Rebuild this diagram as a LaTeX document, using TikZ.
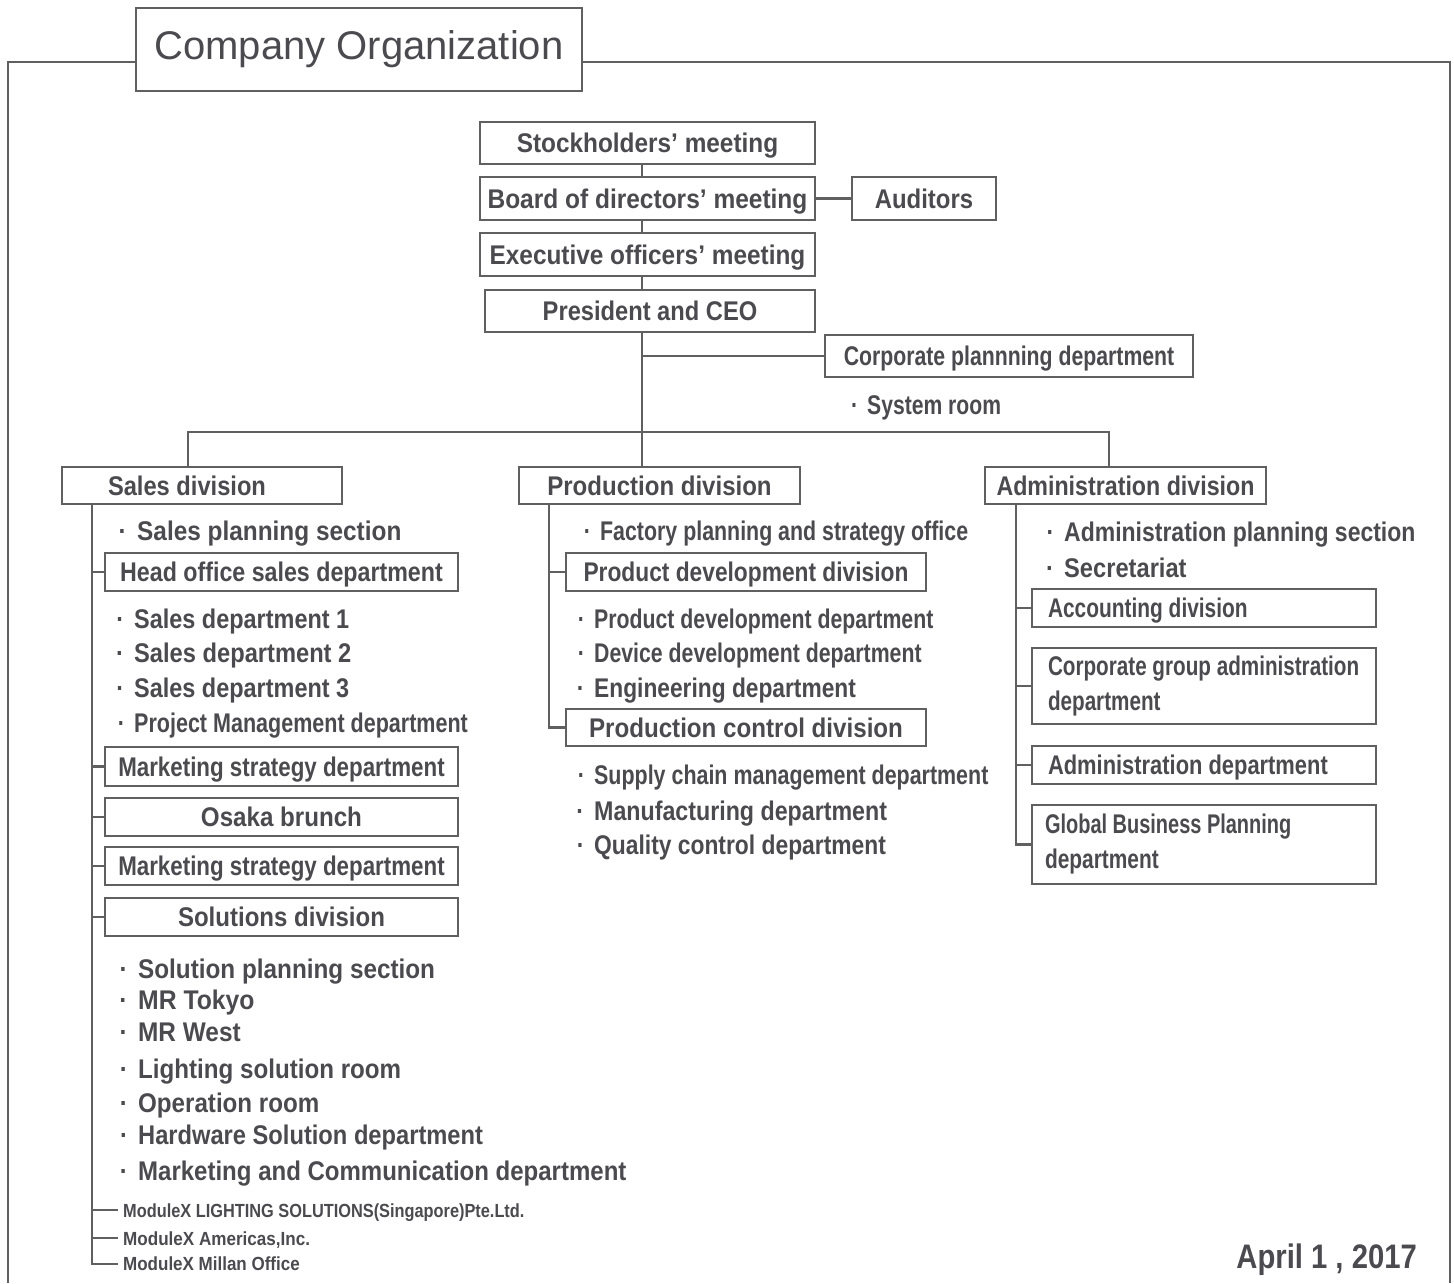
\documentclass[tikz,border=0pt]{standalone}
\usepackage{fontspec}
\usepackage{graphicx}
\setmainfont{Liberation Sans}[FakeStretch=0.86]
\newfontfamily\titlefont{Liberation Sans}
\definecolor{txt}{HTML}{4A4A4F}
\definecolor{ln}{HTML}{606060}
\tikzset{
  bx/.style={draw=ln, line width=2.3pt, inner sep=0pt, text=txt,
    font=\bfseries\fontsize{27}{32}\selectfont, text height=19.5pt, text depth=0pt},
  lbx/.style={bx, align=flush left},
  lbxtwo/.style={draw=ln, line width=2.3pt, inner ysep=0pt, text=txt, align=flush left,
    font=\bfseries\fontsize{27}{35}\selectfont},
  it/.style={anchor=base west, inner sep=0pt, text=txt,
    font=\bfseries\fontsize{27}{32}\selectfont},
  sm/.style={anchor=base west, inner xsep=5pt, inner ysep=0pt, text=txt,
    font=\bfseries\fontsize{19}{22}\selectfont},
  wire/.style={draw=ln, line width=2.3pt},
  frame/.style={draw=ln, line width=2.5pt}
}
\newcommand\bl{\llap{·\hspace{10pt}}}
\newcommand\sx[2]{\scalebox{#1}[1]{#2}}
\begin{document}
\begin{tikzpicture}[x=1pt,y=-1pt]
\useasboundingbox (0,0) rectangle (1454,1283);
% title and frame
\node[draw=ln, line width=2.5pt, minimum width=446pt, minimum height=83pt, inner sep=0pt,
  text=txt, font=\titlefont\fontsize{40}{46}\selectfont] (title) at (359,49.5) {Company Organization};
\coordinate (fl) at (8,62);
\coordinate (fr) at (1450,62);
\coordinate (flb) at (8,1283);
\coordinate (frb) at (1450,1283);
\draw[frame] (title.west |- fl) -- (fl) -- (flb);
\draw[frame] (title.east |- fr) -- (fr) -- (frb);

% top chain
\coordinate (trunk) at (642,0);
\node[bx, minimum width=335pt, minimum height=42pt] (stock) at (647.5,143) {\sx{1.05}{Stockholders’ meeting}};
\node[bx, minimum width=335pt, minimum height=43pt] (board) at (647.5,198.5) {\sx{1.055}{Board of directors’ meeting}};
\node[bx, minimum width=144pt, minimum height=43pt] (aud) at (924,198.5) {\sx{1.03}{Auditors}};
\node[bx, minimum width=335pt, minimum height=43pt] (exec) at (647.5,254.5) {\sx{1.05}{Executive officers’ meeting}};
\node[bx, minimum width=330pt, minimum height=42pt] (pres) at (650,311) {\sx{1.02}{President and CEO}};
\node[bx, minimum width=368pt, minimum height=42pt] (corp) at (1009,356) {\sx{0.915}{Corporate plannning department}};
\node[it] (sysroom) at (867,414) {\sx{0.91}{\bl System room}};

\draw[wire] (stock.south -| trunk) -- (board.north -| trunk);
\draw[wire] (board.east) -- (aud.west);
\draw[wire] (board.south -| trunk) -- (exec.north -| trunk);
\draw[wire] (exec.south -| trunk) -- (pres.north -| trunk);
\coordinate (bus) at (0,432);

% divisions
\node[lbx, minimum width=280pt, minimum height=37pt, inner xsep=46pt, text width=188pt] (sales) at (202,485.5) {\sx{1.02}{Sales division}};
\node[bx, minimum width=281pt, minimum height=37pt] (prod) at (659.5,485.5) {\sx{1.035}{Production division}};
\node[bx, minimum width=281pt, minimum height=37pt] (admin) at (1125.5,485.5) {Administration division};

\coordinate (sdrop) at (188,0);
\coordinate (adrop) at (1109,0);
\draw[wire] (pres.south -| trunk) -- (prod.north -| trunk);
\draw[wire] (corp.west) -- (corp.west -| trunk);
\draw[wire] (sales.north -| sdrop) -- (bus -| sdrop) -- (bus -| adrop) -- (admin.north -| adrop);

% sales column
\coordinate (st) at (92,0);
\node[it] (s1) at (137,540) {\sx{1.05}{\bl Sales planning section}};
\node[bx, minimum width=353pt, minimum height=38pt] (hosd) at (281.5,572) {Head office sales department};
\node[it] (s2) at (134,628) {\sx{1.01}{\bl Sales department 1}};
\node[it] (s3) at (134,662) {\sx{1.02}{\bl Sales department 2}};
\node[it] (s4) at (134,697) {\sx{1.01}{\bl Sales department 3}};
\node[it] (s5) at (134,732) {\sx{0.927}{\bl Project Management department}};
\node[bx, minimum width=353pt, minimum height=39pt] (mkta) at (281.5,766.5) {\sx{0.962}{Marketing strategy department}};
\node[bx, minimum width=353pt, minimum height=38pt] (osaka) at (281.5,817) {\sx{1.04}{Osaka brunch}};
\node[bx, minimum width=353pt, minimum height=38pt] (mktb) at (281.5,866) {\sx{0.962}{Marketing strategy department}};
\node[bx, minimum width=353pt, minimum height=38pt] (sol) at (281.5,917) {\sx{1.035}{Solutions division}};
\node[it] (s6) at (138,978) {\sx{1.046}{\bl Solution planning section}};
\node[it] (s7) at (138,1009) {\sx{1.065}{\bl MR Tokyo}};
\node[it] (s8) at (138,1041) {\sx{1.05}{\bl MR West}};
\node[it] (s9) at (138,1078) {\sx{1.04}{\bl Lighting solution room}};
\node[it] (s10) at (138,1112) {\sx{1.04}{\bl Operation room}};
\node[it] (s11) at (138,1144) {\sx{1.02}{\bl Hardware Solution department}};
\node[it] (s12) at (138,1180) {\sx{1.034}{\bl Marketing and Communication department}};
\node[sm] (mx1) at (118,1217) {ModuleX LIGHTING SOLUTIONS(Singapore)Pte.Ltd.};
\node[sm] (mx2) at (118,1245) {\sx{1.045}{ModuleX Americas,Inc.}};
\node[sm] (mx3) at (118,1270) {\sx{1.04}{ModuleX Millan Office}};
\coordinate (mx1m) at (0,1210);
\coordinate (mx2m) at (0,1238);
\coordinate (mx3m) at (0,1264);

\draw[wire] (sales.south -| st) -- (mx3m -| st) -- (mx3m -| mx3.west);
\foreach \n in {hosd,mkta,osaka,mktb,sol}{\draw[wire] (\n.west -| st) -- (\n.west);}
\draw[wire] (mx1m -| st) -- (mx1m -| mx1.west);
\draw[wire] (mx2m -| st) -- (mx2m -| mx2.west);

% production column
\coordinate (pt) at (549,0);
\node[it] (p1) at (600,540) {\sx{0.92}{\bl Factory planning and strategy office}};
\node[bx, minimum width=360pt, minimum height=38pt] (pdd) at (746,572) {\sx{0.98}{Product development division}};
\node[it] (p2) at (594,628) {\sx{0.916}{\bl Product development department}};
\node[it] (p3) at (594,662) {\sx{0.916}{\bl Device development department}};
\node[it] (p4) at (594,697) {\sx{0.98}{\bl Engineering department}};
\node[bx, minimum width=360pt, minimum height=37pt] (pcd) at (746,727.5) {\sx{1.04}{Production control division}};
\node[it] (p5) at (594,784) {\sx{0.923}{\bl Supply chain management department}};
\node[it] (p6) at (594,820) {\bl Manufacturing department};
\node[it] (p7) at (594,854) {\sx{0.983}{\bl Quality control department}};
\draw[wire] (prod.south -| pt) -- (pcd.west -| pt) -- (pcd.west);
\draw[wire] (pdd.west -| pt) -- (pdd.west);

% administration column
\coordinate (at) at (1016,0);
\node[it] (a1) at (1064,541) {\sx{0.99}{\bl Administration planning section}};
\node[it] (a2) at (1064,577) {\sx{1.02}{\bl Secretariat}};
\node[lbx, minimum width=344pt, minimum height=38pt, inner xsep=16pt, text width=312pt] (acc) at (1204,608) {\sx{0.9}{Accounting division}};
\node[lbxtwo, minimum width=344pt, minimum height=76pt, inner xsep=16pt, text width=312pt] (cga) at (1204,686) {\sx{0.89}{Corporate group administration}\\\sx{0.89}{department}};
\node[lbx, minimum width=344pt, minimum height=38pt, inner xsep=16pt, text width=312pt] (adm) at (1204,765) {\sx{0.943}{Administration department}};
\node[lbxtwo, minimum width=344pt, minimum height=79pt, inner xsep=13pt, text width=318pt] (gbp) at (1204,844.5) {\sx{0.86}{Global Business Planning}\\\sx{0.9}{department}};
\draw[wire] (admin.south -| at) -- (gbp.west -| at) -- (gbp.west);
\foreach \n in {acc,cga,adm}{\draw[wire] (\n.west -| at) -- (\n.west);}

% date
\node[anchor=base east, inner sep=0pt, text=txt, font=\bfseries\fontsize{34}{40}\selectfont] (date) at (1417,1268) {April 1 , 2017};
\end{tikzpicture}
\end{document}
